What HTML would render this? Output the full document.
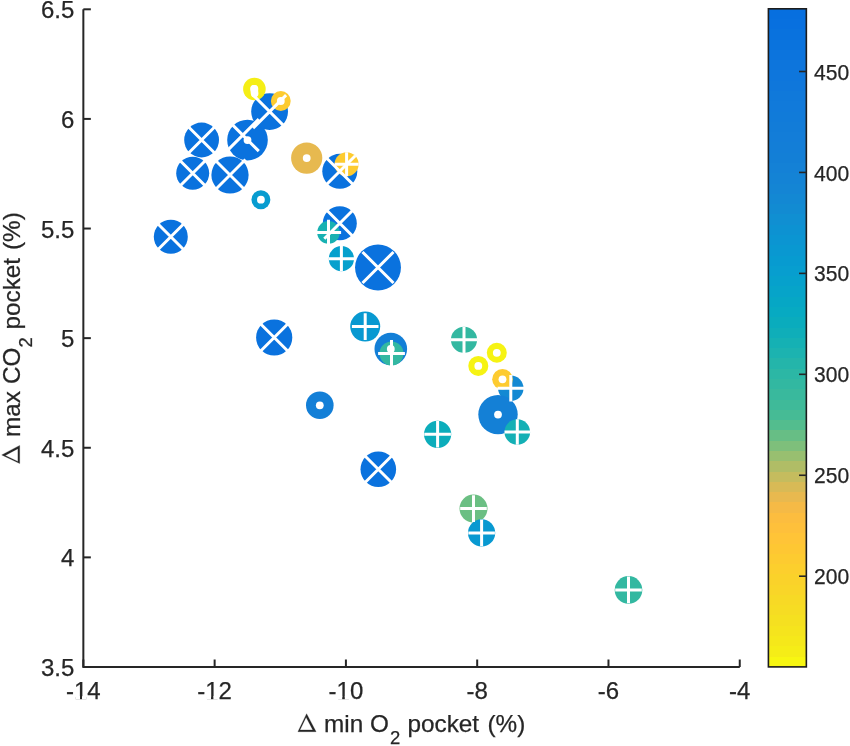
<!DOCTYPE html>
<html><head><meta charset="utf-8"><style>
html,body{margin:0;padding:0;background:#fff;width:850px;height:746px;overflow:hidden}
svg{display:block;will-change:transform}
</style></head><body>
<svg width="850" height="746" viewBox="0 0 850 746">
<defs><linearGradient id="cb" x1="0" y1="8.8" x2="0" y2="666.9" gradientUnits="userSpaceOnUse"><stop offset="0.00000" stop-color="#076fdf"/><stop offset="0.01562" stop-color="#076fdf"/><stop offset="0.01562" stop-color="#0870df"/><stop offset="0.03125" stop-color="#0870df"/><stop offset="0.03125" stop-color="#0972de"/><stop offset="0.04688" stop-color="#0972de"/><stop offset="0.04688" stop-color="#0a73dd"/><stop offset="0.06250" stop-color="#0a73dd"/><stop offset="0.06250" stop-color="#0c74dd"/><stop offset="0.07812" stop-color="#0c74dd"/><stop offset="0.07812" stop-color="#0d75dc"/><stop offset="0.09375" stop-color="#0d75dc"/><stop offset="0.09375" stop-color="#0e76dc"/><stop offset="0.10938" stop-color="#0e76dc"/><stop offset="0.10938" stop-color="#0f77db"/><stop offset="0.12500" stop-color="#0f77db"/><stop offset="0.12500" stop-color="#1079da"/><stop offset="0.14062" stop-color="#1079da"/><stop offset="0.14062" stop-color="#117ada"/><stop offset="0.15625" stop-color="#117ada"/><stop offset="0.15625" stop-color="#117bd9"/><stop offset="0.17188" stop-color="#117bd9"/><stop offset="0.17188" stop-color="#127cd8"/><stop offset="0.18750" stop-color="#127cd8"/><stop offset="0.18750" stop-color="#137dd8"/><stop offset="0.20312" stop-color="#137dd8"/><stop offset="0.20312" stop-color="#137ed7"/><stop offset="0.21875" stop-color="#137ed7"/><stop offset="0.21875" stop-color="#137fd6"/><stop offset="0.23438" stop-color="#137fd6"/><stop offset="0.23438" stop-color="#1481d6"/><stop offset="0.25000" stop-color="#1481d6"/><stop offset="0.25000" stop-color="#1483d5"/><stop offset="0.26562" stop-color="#1483d5"/><stop offset="0.26562" stop-color="#1485d4"/><stop offset="0.28125" stop-color="#1485d4"/><stop offset="0.28125" stop-color="#1388d3"/><stop offset="0.29688" stop-color="#1388d3"/><stop offset="0.29688" stop-color="#128bd2"/><stop offset="0.31250" stop-color="#128bd2"/><stop offset="0.31250" stop-color="#108fd2"/><stop offset="0.32812" stop-color="#108fd2"/><stop offset="0.32812" stop-color="#0d92d2"/><stop offset="0.34375" stop-color="#0d92d2"/><stop offset="0.34375" stop-color="#0b95d2"/><stop offset="0.35938" stop-color="#0b95d2"/><stop offset="0.35938" stop-color="#0998d1"/><stop offset="0.37500" stop-color="#0998d1"/><stop offset="0.37500" stop-color="#079bd0"/><stop offset="0.39062" stop-color="#079bd0"/><stop offset="0.39062" stop-color="#079ecf"/><stop offset="0.40625" stop-color="#079ecf"/><stop offset="0.40625" stop-color="#06a1cc"/><stop offset="0.42188" stop-color="#06a1cc"/><stop offset="0.42188" stop-color="#06a4c9"/><stop offset="0.43750" stop-color="#06a4c9"/><stop offset="0.43750" stop-color="#06a7c5"/><stop offset="0.45312" stop-color="#06a7c5"/><stop offset="0.45312" stop-color="#07aac2"/><stop offset="0.46875" stop-color="#07aac2"/><stop offset="0.46875" stop-color="#0aacbd"/><stop offset="0.48438" stop-color="#0aacbd"/><stop offset="0.48438" stop-color="#0faeb9"/><stop offset="0.50000" stop-color="#0faeb9"/><stop offset="0.50000" stop-color="#15b1b4"/><stop offset="0.51562" stop-color="#15b1b4"/><stop offset="0.51562" stop-color="#1cb3b0"/><stop offset="0.53125" stop-color="#1cb3b0"/><stop offset="0.53125" stop-color="#24b5aa"/><stop offset="0.54688" stop-color="#24b5aa"/><stop offset="0.54688" stop-color="#2cb7a5"/><stop offset="0.56250" stop-color="#2cb7a5"/><stop offset="0.56250" stop-color="#32b8a1"/><stop offset="0.57812" stop-color="#32b8a1"/><stop offset="0.57812" stop-color="#39b99d"/><stop offset="0.59375" stop-color="#39b99d"/><stop offset="0.59375" stop-color="#3fba99"/><stop offset="0.60938" stop-color="#3fba99"/><stop offset="0.60938" stop-color="#46bb95"/><stop offset="0.62500" stop-color="#46bb95"/><stop offset="0.62500" stop-color="#53bd8e"/><stop offset="0.64062" stop-color="#53bd8e"/><stop offset="0.64062" stop-color="#67be85"/><stop offset="0.65625" stop-color="#67be85"/><stop offset="0.65625" stop-color="#7ebf7b"/><stop offset="0.67188" stop-color="#7ebf7b"/><stop offset="0.67188" stop-color="#98bf70"/><stop offset="0.68750" stop-color="#98bf70"/><stop offset="0.68750" stop-color="#b0bd66"/><stop offset="0.70312" stop-color="#b0bd66"/><stop offset="0.70312" stop-color="#c5bc5e"/><stop offset="0.71875" stop-color="#c5bc5e"/><stop offset="0.71875" stop-color="#d8ba56"/><stop offset="0.73438" stop-color="#d8ba56"/><stop offset="0.73438" stop-color="#e8b94f"/><stop offset="0.75000" stop-color="#e8b94f"/><stop offset="0.75000" stop-color="#f5ba46"/><stop offset="0.76562" stop-color="#f5ba46"/><stop offset="0.76562" stop-color="#fcbd3f"/><stop offset="0.78125" stop-color="#fcbd3f"/><stop offset="0.78125" stop-color="#fec03b"/><stop offset="0.79688" stop-color="#fec03b"/><stop offset="0.79688" stop-color="#ffc437"/><stop offset="0.81250" stop-color="#ffc437"/><stop offset="0.81250" stop-color="#fec733"/><stop offset="0.82812" stop-color="#fec733"/><stop offset="0.82812" stop-color="#fdcb30"/><stop offset="0.84375" stop-color="#fdcb30"/><stop offset="0.84375" stop-color="#fccf2d"/><stop offset="0.85938" stop-color="#fccf2d"/><stop offset="0.85938" stop-color="#fad22a"/><stop offset="0.87500" stop-color="#fad22a"/><stop offset="0.87500" stop-color="#f9d528"/><stop offset="0.89062" stop-color="#f9d528"/><stop offset="0.89062" stop-color="#f7d925"/><stop offset="0.90625" stop-color="#f7d925"/><stop offset="0.90625" stop-color="#f6dc23"/><stop offset="0.92188" stop-color="#f6dc23"/><stop offset="0.92188" stop-color="#f5e020"/><stop offset="0.93750" stop-color="#f5e020"/><stop offset="0.93750" stop-color="#f5e41d"/><stop offset="0.95312" stop-color="#f5e41d"/><stop offset="0.95312" stop-color="#f5e81a"/><stop offset="0.96875" stop-color="#f5e81a"/><stop offset="0.96875" stop-color="#f5ed17"/><stop offset="0.98438" stop-color="#f5ed17"/><stop offset="0.98438" stop-color="#f7f611"/><stop offset="1.00000" stop-color="#f7f611"/></linearGradient></defs>
<rect x="768.4" y="8.8" width="37.95" height="658.10" fill="url(#cb)" stroke="#1c1c1c" stroke-width="1.6"/>
<g><circle cx="170.8" cy="236.8" r="17.0" fill="#0a72de"/><circle cx="201.6" cy="140.0" r="17.4" fill="#0a72de"/><circle cx="192.7" cy="173.2" r="16.5" fill="#0a72de"/><circle cx="230.0" cy="175.0" r="18.6" fill="#0a72de"/><circle cx="242.8" cy="135.1" r="13.0" fill="#0a72de"/><circle cx="247.5" cy="140.1" r="20.3" fill="#0a72de"/><circle cx="269.6" cy="111.6" r="18.4" fill="#0a72de"/><circle cx="254.4" cy="89.0" r="11.3" fill="#f5ee16"/><circle cx="280.8" cy="101.0" r="9.9" fill="#fdcb30"/><circle cx="260.9" cy="199.7" r="9.45" fill="#079cd0"/><circle cx="306.7" cy="158.1" r="15.6" fill="#e7b94f"/><circle cx="339.8" cy="171.3" r="17.5" fill="#0a72de"/><circle cx="346.6" cy="164.3" r="12.0" fill="#fdcb30"/><circle cx="339.8" cy="223.2" r="17.0" fill="#0a72de"/><circle cx="328.5" cy="232.4" r="11.3" fill="#18b1b2"/><circle cx="341.4" cy="258.7" r="12.6" fill="#06a0cd"/><circle cx="378.0" cy="267.5" r="22.95" fill="#0a72de"/><circle cx="274.2" cy="337.5" r="18.1" fill="#0a72de"/><circle cx="365.2" cy="326.6" r="15.0" fill="#0899d1"/><circle cx="390.8" cy="349.0" r="16.3" fill="#137fd7"/><circle cx="391.5" cy="353.5" r="12.0" fill="#33b8a1"/><circle cx="319.8" cy="405.3" r="13.8" fill="#137fd7"/><circle cx="378.3" cy="469.2" r="17.8" fill="#0a72de"/><circle cx="464.0" cy="339.8" r="13.1" fill="#33b8a1"/><circle cx="496.8" cy="352.8" r="10.0" fill="#f6f313"/><circle cx="478.3" cy="365.9" r="10.0" fill="#f6f313"/><circle cx="510.8" cy="388.2" r="12.7" fill="#1389d3"/><circle cx="502.5" cy="379.3" r="10.3" fill="#fdcb30"/><circle cx="498.0" cy="414.6" r="19.7" fill="#1480d6"/><circle cx="517.3" cy="432.0" r="12.8" fill="#14b0b5"/><circle cx="437.6" cy="434.3" r="13.6" fill="#0cadbb"/><circle cx="473.5" cy="508.6" r="14.0" fill="#6bbf83"/><circle cx="481.6" cy="532.9" r="13.6" fill="#0899d1"/><circle cx="628.5" cy="589.9" r="13.8" fill="#33b8a1"/></g>
<g fill="none" stroke="#fff" stroke-width="3.0"><path d="M155.30 221.30L186.30 252.30M155.30 252.30L186.30 221.30"/><path d="M186.10 124.50L217.10 155.50M186.10 155.50L217.10 124.50"/><path d="M177.20 157.70L208.20 188.70M177.20 188.70L208.20 157.70"/><path d="M214.50 159.50L245.50 190.50M214.50 190.50L245.50 159.50"/><path d="M226.80 119.10L258.80 151.10M226.80 151.10L258.80 119.10"/><circle cx="247.5" cy="140.1" r="3.9" fill="#fff" stroke="none"/><path d="M253.10 95.10L286.10 128.10M253.10 128.10L286.10 95.10"/><circle cx="254.4" cy="89.0" r="3.9" fill="#fff" stroke="none"/><circle cx="280.8" cy="101.0" r="3.9" fill="#fff" stroke="none"/><circle cx="260.9" cy="199.7" r="3.9" fill="#fff" stroke="none"/><circle cx="306.7" cy="158.1" r="3.9" fill="#fff" stroke="none"/><path d="M324.30 155.80L355.30 186.80M324.30 186.80L355.30 155.80"/><path d="M334.60 164.30L358.60 164.30M346.60 152.30L346.60 176.30"/><path d="M324.30 207.70L355.30 238.70M324.30 238.70L355.30 207.70"/><path d="M315.90 232.40L341.10 232.40M328.50 219.80L328.50 245.00"/><path d="M328.80 258.70L354.00 258.70M341.40 246.10L341.40 271.30"/><path d="M362.50 252.00L393.50 283.00M362.50 283.00L393.50 252.00"/><path d="M258.70 322.00L289.70 353.00M258.70 353.00L289.70 322.00"/><path d="M351.90 326.60L378.50 326.60M365.20 313.30L365.20 339.90"/><circle cx="390.8" cy="349.0" r="3.9" fill="#fff" stroke="none"/><path d="M378.10 353.50L404.90 353.50M391.50 340.10L391.50 366.90"/><circle cx="319.8" cy="405.3" r="3.9" fill="#fff" stroke="none"/><path d="M362.80 453.70L393.80 484.70M362.80 484.70L393.80 453.70"/><path d="M450.90 339.80L477.10 339.80M464.00 326.70L464.00 352.90"/><circle cx="496.8" cy="352.8" r="3.9" fill="#fff" stroke="none"/><circle cx="478.3" cy="365.9" r="3.9" fill="#fff" stroke="none"/><path d="M497.50 388.20L524.10 388.20M510.80 374.90L510.80 401.50"/><circle cx="502.5" cy="379.3" r="3.9" fill="#fff" stroke="none"/><circle cx="498.0" cy="414.6" r="3.9" fill="#fff" stroke="none"/><path d="M504.50 432.00L530.10 432.00M517.30 419.20L517.30 444.80"/><path d="M424.30 434.30L450.90 434.30M437.60 421.00L437.60 447.60"/><path d="M460.20 508.60L486.80 508.60M473.50 495.30L473.50 521.90"/><path d="M468.30 532.90L494.90 532.90M481.60 519.60L481.60 546.20"/><path d="M615.20 589.90L641.80 589.90M628.50 576.60L628.50 603.20"/><path d="M254.1 88.8L254.6 93.5" stroke-width="7.6" stroke-linecap="round"/></g>
<path d="M83.35 9.3V667H739.8" fill="none" stroke="#262626" stroke-width="2"/><path d="M83.35 9.30h7.5" stroke="#262626" stroke-width="2"/><path d="M83.35 118.91h7.5" stroke="#262626" stroke-width="2"/><path d="M83.35 228.53h7.5" stroke="#262626" stroke-width="2"/><path d="M83.35 338.14h7.5" stroke="#262626" stroke-width="2"/><path d="M83.35 447.76h7.5" stroke="#262626" stroke-width="2"/><path d="M83.35 557.37h7.5" stroke="#262626" stroke-width="2"/><path d="M83.35 666.99h7.5" stroke="#262626" stroke-width="2"/><path d="M83.35 667v-7.5" stroke="#262626" stroke-width="2"/><path d="M214.63 667v-7.5" stroke="#262626" stroke-width="2"/><path d="M345.91 667v-7.5" stroke="#262626" stroke-width="2"/><path d="M477.19 667v-7.5" stroke="#262626" stroke-width="2"/><path d="M608.47 667v-7.5" stroke="#262626" stroke-width="2"/><path d="M739.75 667v-7.5" stroke="#262626" stroke-width="2"/><path d="M806.35 576.20h-7.3" stroke="#262626" stroke-width="1.6"/><path d="M806.35 475.26h-7.3" stroke="#262626" stroke-width="1.6"/><path d="M806.35 374.32h-7.3" stroke="#262626" stroke-width="1.6"/><path d="M806.35 273.38h-7.3" stroke="#262626" stroke-width="1.6"/><path d="M806.35 172.44h-7.3" stroke="#262626" stroke-width="1.6"/><path d="M806.35 71.50h-7.3" stroke="#262626" stroke-width="1.6"/>
<g font-family="Liberation Sans, sans-serif" font-size="24" fill="#262626" stroke="#262626" stroke-width="0.25"><text x="74.3" y="18.40" text-anchor="end">6.5</text><text x="74.3" y="128.01" text-anchor="end">6</text><text x="74.3" y="237.63" text-anchor="end">5.5</text><text x="74.3" y="347.25" text-anchor="end">5</text><text x="74.3" y="456.86" text-anchor="end">4.5</text><text x="74.3" y="566.47" text-anchor="end">4</text><text x="74.3" y="676.09" text-anchor="end">3.5</text><text x="83.35" y="699" text-anchor="middle">-14</text><text x="214.63" y="699" text-anchor="middle">-12</text><text x="345.91" y="699" text-anchor="middle">-10</text><text x="477.19" y="699" text-anchor="middle">-8</text><text x="608.47" y="699" text-anchor="middle">-6</text><text x="739.75" y="699" text-anchor="middle">-4</text></g>
<g fill="#fff"><rect x="75.3" y="696.2" width="4.70" height="3.3"/><rect x="82.0" y="696.2" width="4.70" height="3.3"/><rect x="206.3" y="696.2" width="4.70" height="3.3"/><rect x="213.4" y="696.2" width="4.80" height="3.3"/><rect x="337.3" y="696.2" width="4.90" height="3.3"/><rect x="344.8" y="696.2" width="4.20" height="3.3"/></g>
<g font-family="Liberation Sans, sans-serif" font-size="21.6" fill="#262626" stroke="#262626" stroke-width="0.25"><text x="814" y="584.30" textLength="35.1" lengthAdjust="spacingAndGlyphs">200</text><text x="814" y="483.36" textLength="35.1" lengthAdjust="spacingAndGlyphs">250</text><text x="814" y="382.42" textLength="35.1" lengthAdjust="spacingAndGlyphs">300</text><text x="814" y="281.48" textLength="35.1" lengthAdjust="spacingAndGlyphs">350</text><text x="814" y="180.54" textLength="35.1" lengthAdjust="spacingAndGlyphs">400</text><text x="814" y="79.60" textLength="35.1" lengthAdjust="spacingAndGlyphs">450</text></g>
<g font-family="Liberation Sans, sans-serif" font-size="24.3" fill="#262626" stroke="#262626" stroke-width="0.25"><path transform="translate(297.9 731.7) rotate(0)" fill-rule="evenodd" fill="#262626" d="M0.00,0.00 8.70,-18.00 18.20,0.00Z M2.09,-1.80 8.20,-14.44 14.88,-1.80Z"/><text x="324.0" y="731.7">min</text><text x="370.0" y="731.7">O</text><text x="407.5" y="731.7">pocket</text><text x="487.5" y="731.7">(%)</text><text x="390.0" y="743.7" font-size="18.5">2</text><path transform="translate(19.7 463.6) rotate(-90)" fill-rule="evenodd" fill="#262626" d="M0.00,0.00 8.70,-18.00 18.20,0.00Z M2.09,-1.80 8.20,-14.44 14.88,-1.80Z"/><g transform="translate(19.7 0) rotate(-90)"><text x="-437.0" y="0">max</text><text x="-384.0" y="0">CO</text><text x="-329.5" y="0">pocket</text><text x="-250.0" y="0">(%)</text><text x="-347.5" y="12" font-size="18.5">2</text></g></g>
</svg>
</body></html>
